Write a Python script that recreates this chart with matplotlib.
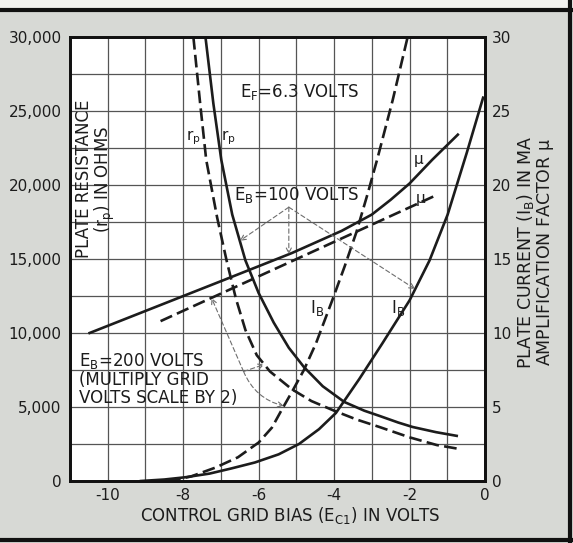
import numpy as np
import matplotlib
matplotlib.use("Agg")
import matplotlib.pyplot as plt
from matplotlib.lines import Line2D

plt.rcParams["font.family"] = ["DejaVu Sans"]
plt.rcParams["mathtext.default"] = "regular"

# Plate resistance (ohms) vs control grid bias (volts)
rp100_v = [-7.41, -7.2, -6.99, -6.7, -6.35, -6.0, -5.6, -5.2, -4.8, -4.3, -3.73,
           -3.2, -2.8, -2.3, -1.92, -1.3, -0.75]
rp100_r = [30000, 25500, 21700, 18000, 14900, 12700, 10700, 9000, 7700, 6400, 5340,
           4750, 4400, 3950, 3650, 3300, 3050]
rp200_v = [-7.73, -7.55, -7.39, -7.1, -6.85, -6.6, -6.35, -6.05, -5.7, -5.12, -4.6,
           -4.0, -3.4, -2.8, -2.0, -1.28, -0.67]
rp200_r = [30000, 25500, 21700, 17800, 14900, 12300, 10200, 8500, 7400, 6200, 5400,
           4750, 4150, 3650, 2950, 2430, 2160]

# Plate current (mA)
ib100_v = [-9.12, -8.5, -7.95, -7.3, -6.72, -6.1, -5.47, -4.93, -4.4, -3.95, -3.33,
           -2.72, -2.0, -1.47, -0.99, -0.48, -0.05]
ib100_i = [0.0, 0.1, 0.25, 0.5, 0.85, 1.25, 1.8, 2.5, 3.5, 4.6, 6.9,
           9.3, 12.2, 14.9, 18.0, 22.2, 25.9]
ib200_v = [-8.4, -7.8, -7.15, -6.55, -6.0, -5.65, -5.39, -5.1, -4.8, -4.48, -4.05,
           -3.72, -3.41, -3.1, -2.85, -2.45, -2.05]
ib200_i = [0.0, 0.3, 0.9, 1.6, 2.6, 3.6, 4.8, 6.1, 7.5, 9.3, 12.2,
           14.5, 16.8, 19.5, 21.8, 25.7, 30.0]

# Amplification factor
mu100_v = [-10.48, -7.0, -5.12, -3.8, -3.0, -2.5, -2.0, -1.4, -0.72]
mu100_m = [10.0, 13.5, 15.4, 16.9, 18.0, 19.0, 20.1, 21.7, 23.4]
mu200_v = [-8.6, -5.12, -1.3]
mu200_m = [10.8, 14.85, 19.3]

xticks = [-10, -8, -6, -4, -2, 0]
xticklabels = ["-10", "-8", "-6", "-4", "-2", "0"]
lticks = [0, 5000, 10000, 15000, 20000, 25000, 30000]
lticklabels = ["0", "5,000", "10,000", "15,000", "20,000", "25,000", "30,000"]
rticks = [0, 5, 10, 15, 20, 25, 30]

ink = "#1c1c1c"
bg = "#d7d9d5"
grid_c = "#555555"
fs_tick = 11
fs = 12

fig = plt.figure(figsize=(5.73, 5.43), dpi=100, facecolor=bg)

# page frame
fig.patches.append(plt.Rectangle((0, 0.984), 1, 0.016, transform=fig.transFigure,
                                 facecolor="#f2f2ef", edgecolor="none", zorder=0))
for (xs, ys, w) in [([0, 1], [0.982, 0.982], 3.0), ([0, 1], [0.006, 0.006], 3.0),
                    ([0.994, 0.994], [0, 1], 3.0)]:
    fig.lines.append(Line2D(xs, ys, transform=fig.transFigure, color="#111", lw=w))

ax = fig.add_axes([0.1222, 0.1142, 0.7242, 0.8177])
ax.set_facecolor("white")
ax.set_xlim(-11, 0)
ax.set_ylim(0, 30000)
ax.set_xticks(xticks)
ax.set_xticklabels(xticklabels, fontsize=fs_tick, color=ink)
ax.set_xticks(np.arange(-11, 1, 1), minor=True)
ax.set_yticks(lticks)
ax.set_yticklabels(lticklabels, fontsize=fs_tick, color=ink)
ax.set_yticks(np.arange(0, 30001, 2500), minor=True)
ax.grid(which="both", color=grid_c, lw=0.9)
ax.tick_params(which="both", length=0)
ax.tick_params(axis="y", pad=6)
ax.tick_params(axis="x", pad=5)
for s in ax.spines.values():
    s.set_linewidth(2.0)
    s.set_color("#111")

ax2 = ax.twinx()
ax2.set_ylim(0, 30)
ax2.set_yticks(rticks)
ax2.set_yticklabels([str(t) for t in rticks], fontsize=fs_tick, color=ink)
ax2.tick_params(length=0, pad=5)
for s in ax2.spines.values():
    s.set_linewidth(2.0)
    s.set_color("#111")

lw = 1.9
dash = (0, (4.8, 2.0))
ax.plot(rp100_v, rp100_r, color=ink, lw=lw)
ax.plot(rp200_v, rp200_r, color=ink, lw=lw, linestyle=dash)
ax2.plot(ib100_v, ib100_i, color=ink, lw=lw)
ax2.plot(ib200_v, ib200_i, color=ink, lw=lw, linestyle=dash)
ax2.plot(mu100_v, mu100_m, color=ink, lw=lw)
ax2.plot(mu200_v, mu200_m, color=ink, lw=lw, linestyle=dash)

# curve labels
ax2.text(-7.73, 23.2, "r$_p$", fontsize=11, color=ink, ha="center", va="center")
ax2.text(-6.8, 23.2, "r$_p$", fontsize=11, color=ink, ha="center", va="center")
ax2.text(-1.75, 21.6, r"$\mu$", fontsize=11, color=ink, ha="center", va="center")
ax2.text(-1.7, 19.0, r"$\mu$", fontsize=11, color=ink, ha="center", va="center")
ax2.text(-4.45, 11.7, "I$_B$", fontsize=12, color=ink, ha="center", va="center")
ax2.text(-2.3, 11.7, "I$_B$", fontsize=12, color=ink, ha="center", va="center")

ax2.text(-6.5, 26.3, "E$_F$=6.3 VOLTS", fontsize=fs, color=ink, ha="left", va="center")
ax2.text(-5.0, 19.3, "E$_B$=100 VOLTS", fontsize=fs, color=ink, ha="center", va="center")
ax2.text(-10.75, 6.9, "E$_B$=200 VOLTS\n(MULTIPLY GRID\nVOLTS SCALE BY 2)",
         fontsize=fs, color=ink, ha="left", va="center", linespacing=1.0)

ax2.text(-10.62, 20.4, "PLATE RESISTANCE", fontsize=fs, color=ink, rotation=90,
         ha="center", va="center")
ax2.text(-10.08, 20.4, "(r$_p$) IN OHMS", fontsize=fs, color=ink, rotation=90,
         ha="center", va="center")

fig.text(290 / 573, 1 - 516 / 543, "CONTROL GRID BIAS (E$_{C1}$) IN VOLTS",
         fontsize=fs, color=ink, ha="center", va="center")
fig.text(525 / 573, 1 - 252 / 543, "PLATE CURRENT (I$_B$) IN MA",
         fontsize=12.5, color=ink, rotation=90, ha="center", va="center")
fig.text(546 / 573, 1 - 252 / 543, r"AMPLIFICATION FACTOR $\mu$",
         fontsize=12.5, color=ink, rotation=90, ha="center", va="center")

# pointer lines from the plate-voltage notes to their curves
arrow = dict(arrowstyle="->", color="#6e6e6e", lw=0.8, linestyle=(0, (4, 2.5)),
             shrinkA=0, shrinkB=0, mutation_scale=9)
apex100 = (-5.2, 18.5)
ax2.annotate("", xy=(-6.5, np.interp(-6.5, rp100_v, rp100_r) / 1000),
             xytext=apex100, arrowprops=arrow)
ax2.annotate("", xy=(-5.2, np.interp(-5.2, mu100_v, mu100_m)), xytext=apex100,
             arrowprops=arrow)
ax2.annotate("", xy=(-1.85, np.interp(-1.85, ib100_v, ib100_i)), xytext=apex100,
             arrowprops=arrow)

apex200 = (-6.4, 7.4)
ax2.annotate("", xy=(-7.25, np.interp(-7.25, mu200_v, mu200_m)), xytext=apex200,
             arrowprops=arrow)
ax2.annotate("", xy=(-5.85, np.interp(-5.85, rp200_v, rp200_r) / 1000), xytext=apex200,
             arrowprops=arrow)
ax2.annotate("", xy=(-5.33, np.interp(-5.33, ib200_v, ib200_i)), xytext=apex200,
             arrowprops=dict(arrow, connectionstyle="arc3,rad=0.25"))

fig.savefig("out.png", dpi=100, facecolor=bg)
